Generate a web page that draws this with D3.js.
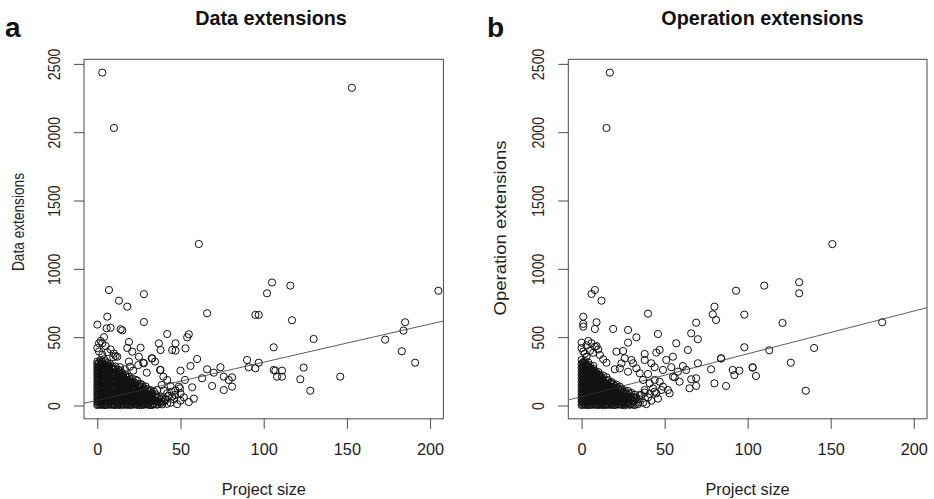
<!DOCTYPE html>
<html><head><meta charset="utf-8">
<script src="https://cdn.jsdelivr.net/npm/d3@7"></script>
<style>body{margin:0;background:#fff} svg{display:block;font-family:"Liberation Sans",Arial,Helvetica,sans-serif}</style>
</head><body><svg id="c" width="934" height="499"></svg>
<script>
const xTicks=[0,50,100,150,200];
const yTicks=[0,500,1000,1500,2000,2500];
const panelLetters=["a","b"];
const panelTitles=["Data extensions","Operation extensions"];
const yLabels=["Data extensions","Operation extensions"];
const xLabel="Project size";
const fitIntercepts=[38,65];
const fitSlopes=[2.79,3.13];

const dataExtPoints=[
[3,2436],[10,2031],[153,2325],[61,1182],[7,845],[28,815],[13,767],[18,723],[0,592],[6,650],[5.6,565],[8,569],[14,558],[15,550],[28,611],[66,675],[95,663],[97,663],[105,900],[102,821],[116,877],[205,840],[117,624],[185,609],[184,548],[106,426],[130,487],[173,482],[183,397],[191,313],[107,255],[111,255],[108,211],[111,211],[124,277],[122,192],[128,108],[146,211],
[2,472],[3,455],[5,435],[19,465],[18,421],[21,394],[25,357],[26,423],[37,455],[38,406],[42,523],[45,406],[47,455],[47,401],[53,418],[54,499],[55,521],[33,345],[11,362],[19,321],[28,309],[38,260],[60,340],[56,289],[50,255],[66,265],
[70,240],[74,280],[76,211],[81,206],[79,187],[76,113],[69,143],[63,199],[57,133],[50,89],[41,48],[44,143],[49,138],[90,333],[91,280],[95,272],[97,313],[106,260],[81,138],
[0,321],[2,333],[4,338],[7.6,304],[9.6,353],[12,357],[13.6,280],[16.6,265],[19.7,284],[21.6,255],[24.6,296],[27.6,313],[29.7,240],[32.7,345],[34.7,321],[37.7,260],[39.7,211],[42,187],[38.7,150],[36,113],[44.7,101],[46.7,77],[49.7,126],[52.7,187],[38.7,28],[35.7,11],[31.7,4],
[1,395],[0,420],[3,372],[6,390],[8,410],[10,380],[4,500],[1,455],
[44,20],[46,45],[48,10],[50,35],[52,60],[55,25],[58,50],[45,65],[42,90],[40,110],[47,110],
[0,3],[2,5],[4,2],[6,4],[8,6],[10,3],[12,5],[14,2],[16,6],[18,4],[20,3],[22,7],[24,4],[26,2],[28,5],[30,8],[33,3],[36,6],
[0.5,8],[2.5,9],[4.5,7],[6.5,10],[8.5,8],[10.5,9],[12.5,7],[14.5,10],[16.5,8],[18.5,9],[20.5,7],[22.5,10],[24.5,8],[27.5,9],[30.5,7],[33.5,10],[39,8],
[1,15],[3,17],[5,13],[7,16],[9,14],[11,18],[13,15],[15,12],[17,17],[19,14],[21,16],[23,13],[25,18],[27,15],[29,12],[31,17],[34,14],[38,16],[42,12],
[0,27],[1,30],[3,25],[5,29],[7,26],[9,31],[11,28],[13,24],[15,30],[17,27],[19,32],[21,26],[23,29],[25,33],[27,25],[29,30],[32,27],[34,34],[37,22],[40,30],
[0.5,33],[2.5,35],[4.5,32],[6.5,34],[8.5,36],[10.5,33],[12.5,35],[14.5,32],[16.5,34],[18.5,36],[20.5,33],[22.5,35],[24.5,31],[26.5,36],[29.5,33],[33,35],[36,31],
[1,40],[3,42],[5,38],[7,43],[9,39],[11,41],[13,44],[15,37],[17,42],[19,40],[21,43],[23,38],[25,41],[27,44],[30,39],[32,42],[35,37],[38,43],[41,40],
[0,50],[2,55],[4,52],[6,48],[8,56],[10,53],[12,49],[14,57],[16,51],[18,54],[20,47],[22,58],[24,52],[26,55],[28,49],[31,56],[33,50],[36,58],[39,53],
[0.5,58],[2.5,60],[4.5,57],[6.5,59],[8.5,61],[10.5,58],[12.5,60],[14.5,57],[16.5,59],[18.5,61],[20.5,58],[22.5,60],[24.5,56],[27.5,60],[30.5,57],[34.5,61],
[1,64],[3,67],[5,63],[7,66],[9,68],[11,62],[13,65],[15,69],[17,63],[19,66],[21,64],[23,68],[25,62],[28,66],[30,63],[33,67],[37,62],
[0,76],[1,80],[3,78],[5,74],[7,82],[9,77],[11,79],[13,73],[15,83],[17,78],[19,75],[21,81],[23,77],[25,72],[27,84],[30,79],[32,74],[35,82],[43,70],
[0.5,83],[2.5,85],[4.5,82],[6.5,84],[8.5,86],[10.5,83],[12.5,85],[14.5,82],[16.5,84],[18.5,86],[20.5,83],[22.5,85],[25.5,81],[29,85],[32.5,82],
[1,89],[3,92],[5,88],[7,91],[9,93],[11,87],[13,90],[15,94],[17,88],[19,91],[21,86],[23,93],[26,89],[28,92],[31,87],[33,91],
[0,100],[2,105],[4,102],[6,107],[8,99],[10,104],[12,108],[14,101],[16,106],[18,98],[20,103],[22,109],[24,100],[27,105],[29,97],[31,110],[34,102],
[0.5,108],[2.5,110],[4.5,107],[6.5,109],[8.5,111],[10.5,108],[12.5,110],[14.5,107],[16.5,109],[18.5,111],[21.5,108],[24.5,105],[27.5,110],
[1,114],[3,117],[5,113],[7,118],[9,112],[11,116],[13,119],[15,111],[17,115],[19,118],[21,113],[23,116],[25,110],[28,117],[32,112],
[0,125],[1,130],[3,127],[5,133],[7,124],[9,129],[11,135],[13,126],[15,131],[17,123],[19,134],[21,128],[23,122],[26,132],[28,126],[30,120],
[0.5,133],[2.5,135],[4.5,132],[6.5,134],[8.5,136],[10.5,133],[12.5,135],[14.5,132],[16.5,134],[18.5,130],[21.5,134],[24.5,128],
[1,139],[3,142],[5,138],[7,143],[9,137],[11,141],[13,144],[15,136],[17,140],[19,143],[21,138],[24,141],[26,136],[29,139],
[0,150],[2,155],[4,158],[6,149],[8,154],[10,160],[12,151],[14,156],[16,147],[18,157],[20,152],[22,146],[25,155],[27,149],
[0.5,158],[2.5,160],[4.5,157],[6.5,159],[8.5,161],[10.5,158],[12.5,160],[14.5,155],[17.5,158],[20.5,156],
[1,164],[3,167],[5,163],[7,168],[9,162],[11,166],[13,169],[15,161],[17,165],[19,160],[21,167],[23,162],[26,158],
[0,175],[1,180],[3,177],[5,183],[7,174],[9,179],[11,185],[13,176],[15,181],[17,172],[19,178],[22,170],[24,182],
[0.5,183],[2.5,185],[4.5,182],[6.5,184],[8.5,186],[10.5,183],[12.5,185],[14.5,180],[17.5,182],
[1,189],[3,192],[5,188],[7,193],[9,187],[11,191],[13,194],[15,186],[17,190],[20,185],[23,188],
[0,200],[2,205],[4,208],[6,199],[8,204],[10,210],[12,201],[14,206],[16,197],[18,203],[21,195],
[0.5,208],[2.5,210],[4.5,207],[6.5,209],[8.5,211],[10.5,208],[12.5,210],[15.5,206],
[1,214],[3,217],[5,213],[7,218],[9,212],[11,216],[13,219],[15,211],[17,214],[19,209],
[0,225],[1,230],[3,233],[5,224],[7,229],[9,235],[11,226],[13,231],[15,222],[17,228],
[0.5,233],[2.5,235],[4.5,232],[6.5,234],[8.5,236],[10.5,231],[13.5,235],
[1,239],[3,242],[5,238],[7,243],[9,237],[11,241],[13,244],[15,236],
[0,250],[2,255],[4,258],[6,249],[8,254],[10,260],[12,248],[14,252],
[0.5,258],[2.5,260],[4.5,257],[6.5,259],[9,262],
[1,264],[3,267],[5,263],[7,268],[9,262],[11,266],[13,260],
[0,275],[1,280],[3,283],[5,274],[7,279],[9,272],[11,285],
[0.5,283],[2.5,285],[4.5,282],[6.5,287],
[1,289],[3,292],[5,288],[7,293],[9,286],
[0,300],[2,305],[4,298],[6,310],
[0.5,308],[2.5,310],
[1,314],[3,318],[5,322]
];

const opExtPoints=[
[17,2436],[15,2031],[151,1181],[131,902],[131,821],[110,877],[121,604],[181,609],[113,404],[140,421],[126,313],[103,277],[105,216],[135,108],
[6,816],[8,845],[12,767],[93,840],[1,650],[1,597],[1,577],[9,609],[8,560],[40,672],[80,723],[79,667],[81,626],[98,665],[69,606],[19,560],[28,553],[46,523],[33,499],[66,528],[70,485],[0,460],[4,472],[6,455],[8,430],[9,435],[28,460],[57,455],[64,406],[98,426],[21,394],[25,399],[38,377],[47,406],[45,387],[55,357],[51,333],[13,338],[15,313],[30,333],[31,309],[44,280],[84,345],[84,344],[70,309],[61,289],[63,260],[54,280],[78,265],[91,260],[95,255],[92,223],[103,280],[66,192],[69,199],[80,162],[87,143],[65,126],[69,143],[59,174],[56,206],[53,89],[48,113],[38,94],[36,77],[41,84],[44,101],[32,53],[31,28],
[24,309],[20,265],[23,272],[28,247],[33,272],[35,236],[40,231],[37,187],[41,162],[44,187],[47,174],[49,138],[43,126],[38,113],[35,77],[45,89],[52,113],[55,211],[58,247],[49,260],[42,309],[38,333],[26,345],[11,370],[3,357],[0,333],
[1,395],[0,420],[2,380],[5,400],[7,385],[10,410],[3,440],
[35,45],[37,20],[40,60],[42,35],[46,50],[39,10],
[0,3],[2,5],[4,2],[6,4],[8,6],[10,3],[12,5],[14,2],[16,6],[18,4],[20,3],[22,7],[24,4],[26,2],[29,5],[32,3],
[0.5,8],[2.5,9],[4.5,7],[6.5,10],[8.5,8],[10.5,9],[12.5,7],[14.5,10],[16.5,8],[18.5,9],[20.5,7],[22.5,10],[25,8],[28,9],[31,7],
[1,15],[3,17],[5,13],[7,16],[9,14],[11,18],[13,15],[15,12],[17,17],[19,14],[21,16],[23,13],[25,18],[27,15],[30,12],[34,10],
[0,27],[1,30],[3,25],[5,29],[7,26],[9,31],[11,28],[13,24],[15,30],[17,27],[19,32],[21,26],[23,29],[25,33],[28,25],[31,30],[34,22],
[0.5,33],[2.5,35],[4.5,32],[6.5,34],[8.5,36],[10.5,33],[12.5,35],[14.5,32],[16.5,34],[18.5,36],[20.5,33],[22.5,35],[25,31],[28,36],[31,33],
[1,40],[3,42],[5,38],[7,43],[9,39],[11,41],[13,44],[15,37],[17,42],[19,40],[21,43],[23,38],[26,41],[29,44],[32,39],
[0,50],[2,55],[4,52],[6,48],[8,56],[10,53],[12,49],[14,57],[16,51],[18,54],[20,47],[22,58],[24,52],[27,55],[30,49],[33,56],
[0.5,58],[2.5,60],[4.5,57],[6.5,59],[8.5,61],[10.5,58],[12.5,60],[14.5,57],[16.5,59],[18.5,61],[20.5,58],[22.5,60],[25.5,56],[28.5,60],
[1,64],[3,67],[5,63],[7,66],[9,68],[11,62],[13,65],[15,69],[17,63],[19,66],[21,64],[23,68],[26,62],[29,66],[31,63],
[0,76],[1,80],[3,78],[5,74],[7,82],[9,77],[11,79],[13,73],[15,83],[17,78],[19,75],[21,81],[24,77],[26,72],[29,84],[32,79],
[0.5,83],[2.5,85],[4.5,82],[6.5,84],[8.5,86],[10.5,83],[12.5,85],[14.5,82],[16.5,84],[18.5,86],[20.5,83],[23.5,85],[27,81],
[1,89],[3,92],[5,88],[7,91],[9,93],[11,87],[13,90],[15,94],[17,88],[19,91],[22,86],[25,93],[27,89],[30,92],
[0,100],[2,105],[4,102],[6,107],[8,99],[10,104],[12,108],[14,101],[16,106],[18,98],[20,103],[23,109],[25,100],[28,105],
[0.5,108],[2.5,110],[4.5,107],[6.5,109],[8.5,111],[10.5,108],[12.5,110],[14.5,107],[16.5,109],[19,111],[22,106],
[1,114],[3,117],[5,113],[7,118],[9,112],[11,116],[13,119],[15,111],[17,115],[19,118],[21,113],[23,116],[26,110],
[0,125],[1,130],[3,127],[5,133],[7,124],[9,129],[11,135],[13,126],[15,131],[17,123],[19,134],[22,128],[24,122],
[0.5,133],[2.5,135],[4.5,132],[6.5,134],[8.5,136],[10.5,133],[12.5,135],[14.5,132],[17,134],[20,130],
[1,139],[3,142],[5,138],[7,143],[9,137],[11,141],[13,144],[15,136],[17,140],[20,143],[23,138],
[0,150],[2,155],[4,158],[6,149],[8,154],[10,160],[12,151],[14,156],[16,147],[18,157],[21,152],
[0.5,158],[2.5,160],[4.5,157],[6.5,159],[8.5,161],[10.5,158],[12.5,160],[15,155],
[1,164],[3,167],[5,163],[7,168],[9,162],[11,166],[13,169],[15,161],[17,165],[19,160],
[0,175],[1,180],[3,177],[5,183],[7,174],[9,179],[11,185],[13,176],[15,181],[18,172],
[0.5,183],[2.5,185],[4.5,182],[6.5,184],[8.5,186],[10.5,183],[13,180],
[1,189],[3,192],[5,188],[7,193],[9,187],[11,191],[13,194],[16,186],
[0,200],[2,205],[4,208],[6,199],[8,204],[10,210],[12,201],[15,206],
[0.5,208],[2.5,210],[4.5,207],[6.5,209],[8.5,211],[11,208],
[1,214],[3,217],[5,213],[7,218],[9,212],[11,216],[13,219],
[0,225],[1,230],[3,233],[5,224],[7,229],[9,235],[11,226],
[0.5,233],[2.5,235],[4.5,232],[6.5,234],[8.5,231],
[1,239],[3,242],[5,238],[7,243],[9,237],[10,245],
[0,250],[2,255],[4,258],[6,249],[8,254],
[0.5,258],[2.5,260],[4.5,257],[6,262],
[1,264],[3,267],[5,263],[7,268],
[0,275],[1,280],[3,283],[5,274],[7,290],
[0.5,283],[2.5,285],[4,288],
[1,289],[3,292],[5,295],
[0,300],[2,305],[4,315],
[0.5,308],[1.5,312],
[1,318],[2,325]
];

const seriesPoints=[dataExtPoints,opExtPoints];
const layout=[
 {left:84,right:443.4,letterX:5,titleX:271,xlabX:263.8,ylabX:24,ylabY:222,ylabLen:98},
 {left:568.3,right:927,letterX:487,titleX:762.5,xlabX:747.5,ylabX:506,ylabY:228,ylabLen:175}
];
const plotTop=59.3, plotBottom=418.8;
const svg=d3.select("#c");
const ink="#111", boxCol="#4a4a4a";

layout.forEach((L,i)=>{
  const x=d3.scaleLinear().domain([-8,208]).range([L.left,L.right]);
  const y=d3.scaleLinear().domain([-97.4,2533.4]).range([plotBottom,plotTop]);
  const g=svg.append("g");
  const cid="clip"+i;
  svg.append("clipPath").attr("id",cid).append("rect")
    .attr("x",L.left).attr("y",plotTop).attr("width",L.right-L.left).attr("height",plotBottom-plotTop);
  const pg=g.append("g").attr("clip-path",`url(#${cid})`);
  pg.selectAll("circle").data(seriesPoints[i]).join("circle")
    .attr("cx",d=>x(d[0])).attr("cy",d=>y(d[1])).attr("r",3.6)
    .attr("fill","none").attr("stroke",ink).attr("stroke-width",1);
  const xd=x.domain();
  pg.append("line")
    .attr("x1",x(xd[0])).attr("y1",y(fitIntercepts[i]+fitSlopes[i]*xd[0]))
    .attr("x2",x(xd[1])).attr("y2",y(fitIntercepts[i]+fitSlopes[i]*xd[1]))
    .attr("stroke","#333").attr("stroke-width",0.8);
  g.append("rect").attr("x",L.left).attr("y",plotTop).attr("width",L.right-L.left).attr("height",plotBottom-plotTop)
    .attr("fill","none").attr("stroke",boxCol).attr("stroke-width",1);
  const xa=g.append("g").attr("transform",`translate(0,${plotBottom})`)
    .call(d3.axisBottom(x).tickValues(xTicks).tickSize(10).tickPadding(0).tickFormat(d3.format("d")));
  xa.select(".domain").remove();
  xa.selectAll(".tick line").attr("stroke",boxCol);
  xa.selectAll(".tick text").attr("y",36).attr("dy",null).attr("fill","#222")
    .style("font-size","16.3px").style("font-family","'Liberation Sans',Arial,sans-serif");
  const ya=g.append("g").attr("transform",`translate(${L.left},0)`)
    .call(d3.axisLeft(y).tickValues(yTicks).tickSize(10).tickFormat(d3.format("d")));
  ya.select(".domain").remove();
  ya.selectAll(".tick line").attr("stroke",boxCol);
  ya.selectAll(".tick text").attr("x",null).attr("dy",null).attr("text-anchor","middle")
    .attr("transform","translate(-24.5,0) rotate(-90) scale(0.87,1)")
    .attr("fill","#222")
    .style("font-size","16.3px").style("font-family","'Liberation Sans',Arial,sans-serif");
  svg.append("text").attr("x",L.letterX).attr("y",37).text(panelLetters[i])
    .style("font-weight","bold").style("font-size","28px").attr("fill","#111");
  svg.append("text").attr("x",L.titleX).attr("y",25).attr("text-anchor","middle").text(panelTitles[i])
    .style("font-weight","bold").style("font-size","19.8px").attr("fill","#111");
  svg.append("text").attr("x",L.xlabX).attr("y",495).attr("text-anchor","middle").text(xLabel)
    .style("font-size","16.3px").attr("fill","#222");
  svg.append("text").attr("transform",`translate(${L.ylabX},${L.ylabY}) rotate(-90)`).attr("text-anchor","middle")
    .attr("textLength",L.ylabLen).attr("lengthAdjust","spacingAndGlyphs")
    .text(yLabels[i]).style("font-size","16.3px").attr("fill","#222");
});
</script></body></html>
